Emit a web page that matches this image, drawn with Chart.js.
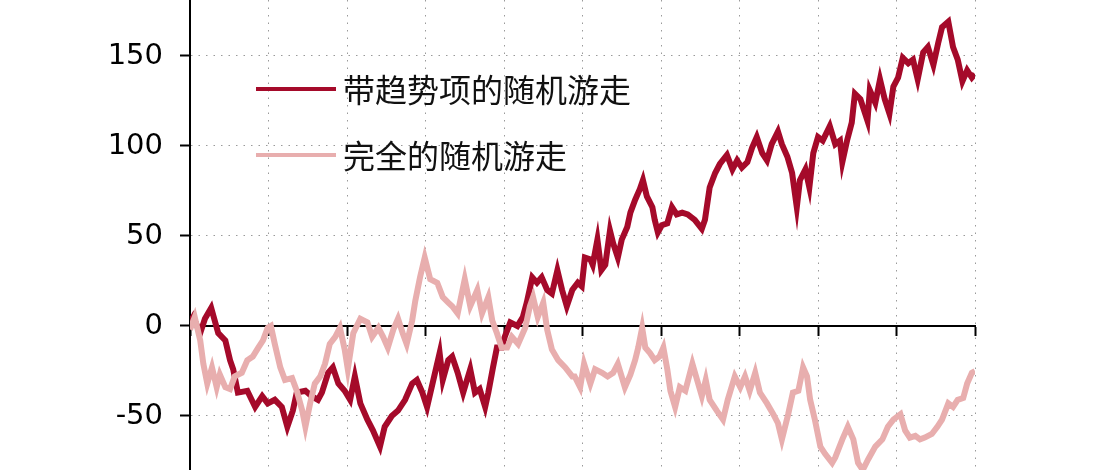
<!DOCTYPE html>
<html>
<head>
<meta charset="utf-8">
<script src="https://cdn.jsdelivr.net/npm/chart.js@4/dist/chart.umd.min.js"></script>
<style>
  html, body { margin: 0; padding: 0; background: #fff; }
  #wrap { position: relative; width: 1105px; height: 470px; overflow: hidden; }
  #c { position: absolute; left: 0; top: 0; }
  .lg { position: absolute; left: 256px; width: 80px; height: 4px; }
  .lt { position: absolute; left: 343px; font-family: "Noto Sans CJK SC", sans-serif; font-size: 32px; color: #111; line-height: 40px; white-space: nowrap; }
</style>
</head>
<body>
<div id="wrap">
  <canvas id="c" width="1105" height="470"></canvas>
  <div class="lg" style="top:87px;background:#A50A2A"></div>
  <div class="lt" style="top:68px">带趋势项的随机游走</div>
  <div class="lg" style="top:153px;background:#E8AEAE"></div>
  <div class="lt" style="top:134px">完全的随机游走</div>
</div>
<script>
// Series names
const seriesNames = ["带趋势项的随机游走", "完全的随机游走"];

// Y-axis tick labels
const yTickValues = [-50, 0, 50, 100, 150];

// Trend random walk (x position on 0..1000 time axis, value)
const trendX = [0,4,13,19,27,36,45,51,55,61,
  73,83,92,99,108,117,124,131,136,147,
  155,163,168,176,182,189,197,204,210,217,
  226,233,242,248,257,265,274,283,289,296,
  302,310,318,322,329,334,341,348,357,363,
  369,376,380,386,391,397,401,408,417,424,
  429,436,442,448,455,461,468,474,480,487,
  494,499,503,510,513,519,524,529,535,539,
  545,550,557,561,567,573,577,582,589,592,
  596,601,608,614,620,627,634,643,652,656,
  662,669,675,684,691,697,703,710,716,722,
  729,735,741,749,754,761,767,773,777,784,
  789,794,800,806,815,822,828,831,837,843,
  847,854,863,866,873,879,885,891,896,902,
  908,915,921,927,934,940,947,953,958,966,
  972,978,984,990,996,1000];
const trendY = [2,5,-4,4,10,-4,-8,-19,-24,-37,
  -36,-45,-39,-43,-41,-45,-56,-47,-37,-36,
  -39,-41,-37,-26,-23,-32,-36,-41,-28,-43,
  -52,-58,-67,-56,-50,-47,-41,-32,-30,-37,
  -45,-30,-15,-30,-19,-17,-26,-37,-24,-37,
  -35,-45,-37,-23,-12,-12,-6,2,0,5,
  13,27,24,27,20,18,31,20,11,20,
  24,22,38,37,34,48,31,34,53,46,
  38,48,55,63,70,76,81,72,66,59,
  52,56,57,66,62,63,62,59,54,59,
  77,85,90,95,87,92,88,91,99,105,
  96,92,101,108,101,94,85,66,81,87,
  77,96,105,103,111,101,103,91,103,113,
  129,126,114,131,124,137,126,118,133,138,
  149,146,148,137,152,155,145,157,166,169,
  155,148,136,142,138,140];

// Pure random walk
const pureX = [0,6,13,17,22,28,34,38,45,51,
  57,66,73,80,87,93,99,103,108,115,
  121,130,136,143,147,153,159,166,172,178,
  185,191,197,201,208,217,226,232,240,246,
  252,259,265,271,276,283,287,293,299,306,
  315,322,329,334,341,350,357,366,372,380,
  385,391,397,404,410,418,427,433,437,443,
  450,455,461,469,478,487,490,497,502,510,
  516,525,532,539,545,554,561,567,571,576,
  580,586,592,598,603,608,612,618,624,631,
  640,646,652,657,662,671,679,685,694,701,
  707,713,720,726,735,743,749,754,762,768,
  775,781,786,790,796,803,809,818,822,831,
  838,845,851,857,864,873,882,889,896,905,
  911,917,924,930,936,945,952,958,966,972,
  978,985,990,996,1000];
const pureY = [-2,5,-8,-21,-32,-23,-34,-27,-34,-35,
  -28,-26,-19,-17,-12,-8,-1,0,-10,-23,
  -30,-29,-36,-47,-56,-43,-32,-28,-21,-10,
  -6,-1,-13,-24,-4,4,2,-6,-1,-6,
  -12,-2,4,-4,-10,3,14,27,38,26,
  24,16,13,11,7,26,11,20,7,16,
  3,-4,-12,-12,-6,-10,-1,11,16,5,
  13,-2,-13,-19,-23,-28,-28,-34,-21,-32,
  -24,-26,-28,-26,-21,-34,-27,-19,-12,-1,
  -12,-15,-19,-17,-12,-24,-36,-45,-34,-36,
  -21,-30,-39,-30,-41,-47,-52,-41,-28,-34,
  -28,-36,-26,-37,-43,-49,-54,-63,-49,-37,
  -36,-23,-28,-41,-52,-67,-71,-76,-73,-63,
  -56,-63,-76,-80,-74,-67,-63,-56,-52,-49,
  -58,-62,-61,-63,-62,-60,-56,-52,-43,-45,
  -41,-40,-32,-26,-25];

const toPoints = (xs, ys) => xs.map((x, i) => ({x: x, y: ys[i]}));

new Chart(document.getElementById('c'), {
  type: 'line',
  data: {
    datasets: [
      { label: seriesNames[0], data: toPoints(trendX, trendY), borderColor: '#A50A2A',
        borderWidth: 6, pointRadius: 0, tension: 0, fill: false, order: 1, borderJoinStyle: 'miter' },
      { label: seriesNames[1], data: toPoints(pureX, pureY), borderColor: '#E8AEAE',
        borderWidth: 6, pointRadius: 0, tension: 0, fill: false, order: 0, borderJoinStyle: 'miter' }
    ]
  },
  options: {
    responsive: false,
    animation: false,
    devicePixelRatio: 1,
    layout: { padding: { left: 0, right: 130, top: 0, bottom: 0 } },
    plugins: { legend: { display: false }, tooltip: { enabled: false } },
    scales: {
      x: {
        type: 'linear',
        position: { y: 0 },
        min: 0, max: 1000,
        ticks: { display: false, stepSize: 100 },
        grid: { color: '#9a9a9a', lineWidth: 1, tickColor: '#000', tickWidth: 2, tickLength: 9 },
        border: { display: true, color: '#000', width: 2, dash: [1.5, 6] },
        afterFit: s => { s.paddingLeft = 0; s.paddingRight = 0; s.paddingTop = 0; s.paddingBottom = 0; }
      },
      y: {
        type: 'linear',
        position: 'left',
        min: -80, max: 181.1,
        ticks: { stepSize: 50, color: '#000', padding: 17,
                 font: { family: 'DejaVu Sans', size: 29 } },
        afterBuildTicks: s => { s.ticks = yTickValues.map(v => ({ value: v })); },
        grid: { color: '#9a9a9a', lineWidth: 1, tickColor: '#000', tickWidth: 2, tickLength: 10 },
        border: { display: true, color: '#000', width: 2, dash: [1.5, 6] },
        afterFit: s => { s.width = 190; s.paddingTop = 0; s.paddingBottom = 0; }
      }
    }
  }
});
</script>
</body>
</html>
